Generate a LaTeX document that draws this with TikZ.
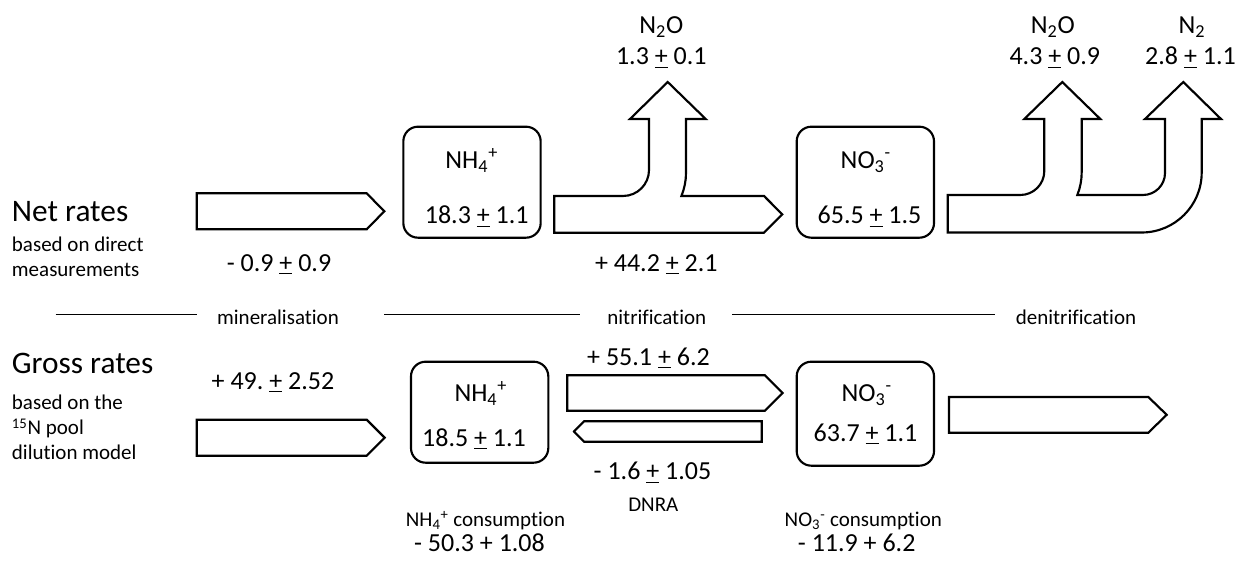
\documentclass[tikz,border=0pt]{standalone}
\usepackage{fontspec}
\setmainfont[Ligatures=NoCommon]{Carlito}
\usepackage{tikz}
\frenchspacing

\newcommand{\pmu}{\underline{+}}

\begin{document}
\begin{tikzpicture}[x=0.75pt, y=0.75pt,
  heading/.style={font=\fontsize{23.5}{28}\selectfont, anchor=base west, inner sep=0pt},
  remark/.style={font=\fontsize{15.75}{19}\selectfont, anchor=base west, inner sep=0pt},
  rate/.style={font=\fontsize{19.5}{23}\selectfont, anchor=base, inner sep=0pt},
  process/.style={font=\fontsize{15.75}{19}\selectfont, anchor=base, inner sep=0pt},
  pool/.style={draw, line width=1.6pt, rounded corners=11pt, minimum width=103pt, inner sep=0pt},
  flux/.style={draw, line width=1.6pt, line join=miter, fill=white},
  divider/.style={line width=1pt}]
\useasboundingbox (0,0) rectangle (1239,564);

% row titles
\node[heading] (netT) at (11.7,342.3) {Net rates};
\node[remark] (netA) at (11.7,312.3) {based on direct};
\node[remark] (netB) at (11.7,287.3) {measurements};
\node[heading] (grossT) at (11.7,190.7) {Gross rates};
\node[remark] (grossA) at (11.7,154) {based on the};
\node[remark] (grossB) at (11.7,129) {\textsuperscript{15}N pool};
\node[remark] (grossC) at (11.7,104) {dilution model};

% separators
\draw[divider] (55.7,249.3) -- (196.7,249.3);
\draw[divider] (384.3,249.3) -- (580,249.3);
\draw[divider] (732.3,249.3) -- (995,249.3);
\node[process] (minT) at (278,239) {mineralisation};
\node[process] (nitT) at (656.8,239) {nitrification};
\node[process] (denT) at (1076,239) {denitrification};

% net rates
\draw[flux] (196.7,334.7) -- (366.7,334.7) -- (384.3,352.7) -- (366.7,370.7) -- (196.7,370.7) -- cycle;
\node[rate] (minNet) at (279,292.3) {- 0.9 \pmu{} 0.9};
\node[pool, minimum height=83.25pt] (nh4Net) at (472,381.8) {};
\node[rate] (nh4NetN) at (471.7,395.7) {NH\textsubscript{4}\textsuperscript{+}};
\node[rate] (nh4NetV) at (476.7,340) {18.3 \pmu{} 1.1};
\draw[flux] (554.3,331.3) -- (764,331.3) -- (782.3,349.65) -- (764,368) -- (681.4,368)
  arc[start angle=-22.54, end angle=0, radius=60] -- (686,445) -- (705.7,445) -- (667.7,482)
  -- (630,445) -- (649,445) -- (649,394) arc[start angle=0, end angle=-90, radius=26]
  -- (554.3,368) -- cycle;
\node[rate] (nitNet) at (656.3,292.3) {+ 44.2 \pmu{} 2.1};
\node[rate] (n2oA) at (661.3,530.7) {N\textsubscript{2}O};
\node[rate] (n2oAV) at (661.3,499) {1.3 \pmu{} 0.1};
\node[pool, minimum height=83.25pt] (no3Net) at (865.35,381.8) {};
\node[rate] (no3NetN) at (865.8,395.7) {NO\textsubscript{3}\textsuperscript{-}};
\node[rate] (no3NetV) at (869.5,340) {65.5 \pmu{} 1.5};
\draw[flux] (947.7,331.5) -- (1141.7,331.5) arc[start angle=-90, end angle=0, radius=60]
  -- (1201.7,445) -- (1221,445) -- (1183.3,482) -- (1145,445) -- (1165,445) -- (1165,391)
  arc[start angle=0, end angle=-90, radius=22] -- (1077.3,369)
  arc[start angle=-22.02, end angle=0, radius=60] -- (1081.7,445) -- (1100.3,445) -- (1062.3,482)
  -- (1024.3,445) -- (1044.3,445) -- (1044.3,393) arc[start angle=0, end angle=-90, radius=24]
  -- (947.7,369) -- cycle;
\node[rate] (n2oB) at (1052.8,530.7) {N\textsubscript{2}O};
\node[rate] (n2oBV) at (1054.8,499) {4.3 \pmu{} 0.9};
\node[rate] (n2) at (1192,530.7) {N\textsubscript{2}};
\node[rate] (n2V) at (1190.5,499) {2.8 \pmu{} 1.1};

% gross rates
\node[rate] (minGross) at (273,174.7) {+ 49. \pmu{} 2.52};
\draw[flux] (196.7,108.3) -- (366.7,108.3) -- (384.7,126.3) -- (366.7,144.3) -- (196.7,144.3) -- cycle;
\node[pool, minimum height=75.75pt] (nh4Gross) at (479.65,151.8) {};
\node[rate] (nh4GrossN) at (480.8,162.3) {NH\textsubscript{4}\textsuperscript{+}};
\node[rate] (nh4GrossV) at (474,117.3) {18.5 \pmu{} 1.1};
\node[rate] (nitGross) at (648.5,198.3) {+ 55.1 \pmu{} 6.2};
\draw[flux] (567.3,153.3) -- (765,153.3) -- (782.7,171) -- (765,188.7) -- (567.3,188.7) -- cycle;
\draw[flux] (761.7,122.3) -- (584,122.3) -- (574,132.5) -- (584,142.7) -- (761.7,142.7) -- cycle;
\node[rate] (dnraV) at (652.5,84) {- 1.6 \pmu{} 1.05};
\node[process] (dnra) at (653.3,52.3) {DNRA};
\node[process] (nh4Cons) at (485.5,37.3) {NH\textsubscript{4}\textsuperscript{+} consumption};
\node[rate] (nh4ConsV) at (479.5,12.3) {- 50.3 + 1.08};
\node[pool, minimum height=78pt] (no3Gross) at (865.35,150.3) {};
\node[rate] (no3GrossN) at (866.7,162.3) {NO\textsubscript{3}\textsuperscript{-}};
\node[rate] (no3GrossV) at (865.5,122.3) {63.7 \pmu{} 1.1};
\draw[flux] (949,131.3) -- (1148.3,131.3) -- (1166.7,149.2) -- (1148.3,167) -- (949,167) -- cycle;
\node[process] (no3Cons) at (863.3,37.3) {NO\textsubscript{3}\textsuperscript{-} consumption};
\node[rate] (no3ConsV) at (856.7,12.3) {- 11.9 + 6.2};
\end{tikzpicture}
\end{document}
